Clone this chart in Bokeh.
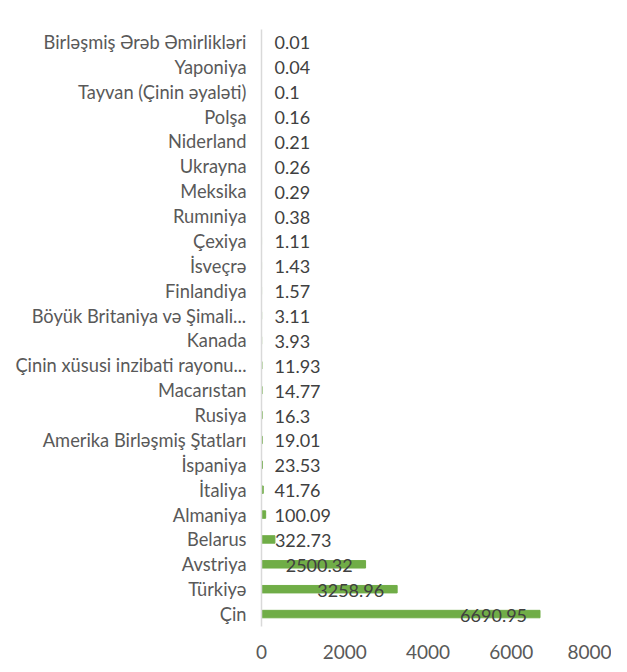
from bokeh.plotting import figure
from bokeh.models import ColumnDataSource, FactorRange, Range1d, FixedTicker
from bokeh.core.properties import value
from bokeh.embed import file_html
from bokeh.resources import INLINE

# top-to-bottom order as in the reference
countries = [
    "Birləşmiş Ərəb Əmirlikləri", "Yaponiya", "Tayvan (Çinin əyaləti)", "Polşa",
    "Niderland", "Ukrayna", "Meksika", "Rumıniya", "Çexiya", "İsveçrə",
    "Finlandiya", "Böyük Britaniya və Şimali...", "Kanada",
    "Çinin xüsusi inzibati rayonu...", "Macarıstan", "Rusiya",
    "Amerika Birləşmiş Ştatları", "İspaniya", "İtaliya", "Almaniya",
    "Belarus", "Avstriya", "Türkiyə", "Çin",
]
values = [0.01, 0.04, 0.1, 0.16, 0.21, 0.26, 0.29, 0.38, 1.11, 1.43, 1.57, 3.11,
          3.93, 11.93, 14.77, 16.3, 19.01, 23.53, 41.76, 100.09, 322.73,
          2500.32, 3258.96, 6690.95]
value_labels = ["0.01", "0.04", "0.1", "0.16", "0.21", "0.26", "0.29", "0.38",
                "1.11", "1.43", "1.57", "3.11", "3.93", "11.93", "14.77", "16.3",
                "19.01", "23.53", "41.76", "100.09", "322.73", "2500.32",
                "3258.96", "6690.95"]
x_ticks = [0, 2000, 4000, 6000, 8000]

FONT = "Lato"
W, H = 611, 664
left, right, top, bottom = 261, 17, 29, 38
frame_w = W - left - right
pad = 13 * 8000 / frame_w  # 13px in data units

small_x, small_t, small_c = [], [], []
big_x, big_t, big_c = [], [], []
for c, v, t in zip(countries, values, value_labels):
    if v >= 2000:
        big_x.append(v); big_t.append(t); big_c.append(c)
    else:
        small_x.append(max(v, pad)); small_t.append(t); small_c.append(c)

p = figure(width=W, height=H, output_backend="svg", toolbar_location=None,
           y_range=FactorRange(factors=list(reversed(countries)), range_padding=0),
           x_range=Range1d(0, 8000),
           min_border_left=left, min_border_right=right,
           min_border_top=top, min_border_bottom=bottom)

p.hbar(y=countries, right=values, left=0, height=0.3, color="#70AD47")

p.text(x=small_x, y=small_c, text=small_t, text_align="left", text_baseline="middle",
       text_font=value(FONT), text_font_size="18px", text_color="#404040", y_offset=1)
p.text(x=big_x, y=big_c, text=big_t, text_align="right", text_baseline="middle",
       text_font=value(FONT), text_font_size="18px", text_color="#404040",
       x_offset=-13, y_offset=1)

p.xgrid.visible = False
p.ygrid.visible = False
p.outline_line_color = None

p.xaxis.ticker = FixedTicker(ticks=x_ticks)
p.xaxis.axis_line_color = None
p.xaxis.major_tick_line_color = None
p.xaxis.minor_tick_line_color = None
p.xaxis.major_label_standoff = 12
p.xaxis.major_label_text_font = FONT
p.xaxis.major_label_text_font_size = "19px"
p.xaxis.major_label_text_color = "#595959"

p.yaxis.axis_line_color = "#D9D9D9"
p.yaxis.axis_line_width = 1.5
p.yaxis.major_tick_line_color = None
p.yaxis.minor_tick_line_color = None
p.yaxis.major_label_standoff = 9
p.yaxis.major_label_text_font = FONT
p.yaxis.major_label_text_font_size = "18.3px"
p.yaxis.major_label_text_color = "#595959"

open("out.html", "w").write(file_html(p, INLINE))
